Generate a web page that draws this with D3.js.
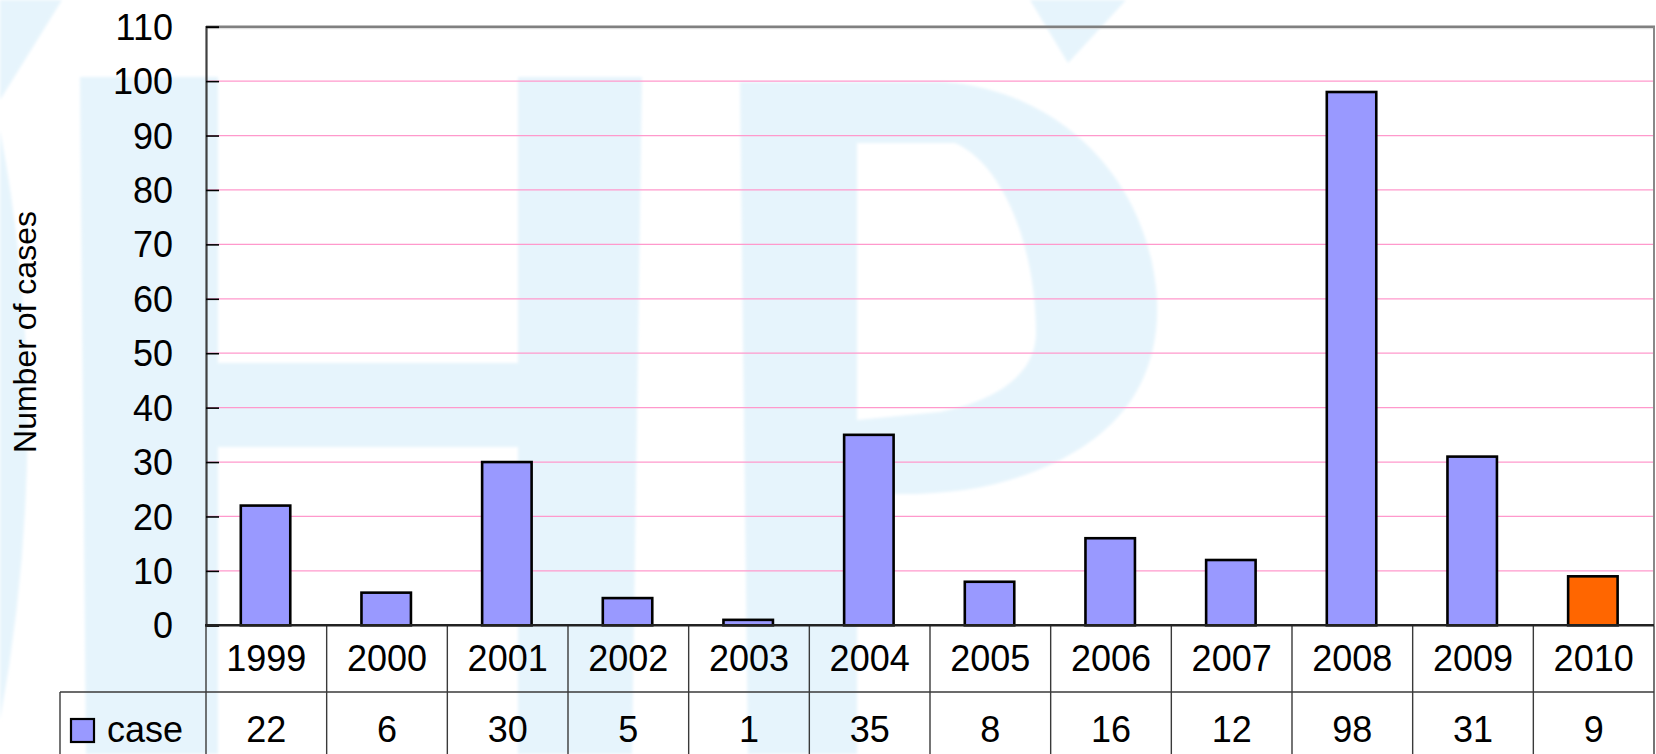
<!DOCTYPE html>
<html>
<head>
<meta charset="utf-8">
<script src="https://cdn.jsdelivr.net/npm/d3@7/dist/d3.min.js"></script>
<style>
  html, body { margin: 0; padding: 0; background: #ffffff; }
  svg { display: block; }
  text { font-family: "Liberation Sans", Arial, sans-serif; fill: #000; }
</style>
</head>
<body>
<svg id="chart" width="1656" height="754"></svg>
<script>
// Yearly case counts
const years = ["1999", "2000", "2001", "2002", "2003", "2004", "2005", "2006", "2007", "2008", "2009", "2010"];
const cases = [22, 6, 30, 5, 1, 35, 8, 16, 12, 98, 31, 9];
const yTicks = [0, 10, 20, 30, 40, 50, 60, 70, 80, 90, 100, 110];
const seriesName = "case";
const yTitle = "Number of cases";
const highlightYear = "2010";

const W = 1656, H = 754;
const plot = { left: 206, right: 1654, top: 26.7, bottom: 625.3 };
const table = { rowSplit: 692, bottom: H + 2, legendLeft: 60 };

const BAR_FILL = "#9999ff";
const HIGHLIGHT_FILL = "#ff6600";
const GRID = "#ff99cc";
const WATERMARK = "#e6f4fc";

const svg = d3.select("#chart");

// Faint logo watermark behind everything
const defs = svg.append("defs");
defs.append("filter").attr("id", "soft")
  .append("feGaussianBlur").attr("stdDeviation", 1.5);
const wm = svg.append("g").attr("filter", "url(#soft)").attr("fill", WATERMARK);
wm.append("path").attr("d", "M0,0 L62,0 L0,100 Z");
wm.append("path").attr("d", "M0,130 Q55,420 0,720 Z");
wm.append("path").attr("d",
  "M80,77 L218,77 L218,363 L518,363 L518,77 L642,77 L632,754 L518,754 L518,447 L218,447 L218,754 L86,754 Z");
wm.append("path").attr("fill-rule", "evenodd").attr("d",
  "M740,82 L943,82 C1060,90 1150,180 1157,300 C1160,380 1120,430 1060,460 C1010,485 960,494 900,494 L857,494 L857,754 L748,754 Z " +
  "M857,143 L955,143 C1005,165 1036,250 1036,333 C1036,372 1000,400 940,412 L857,420 Z");
wm.append("path").attr("d", "M1030,0 L1068,63 L1126,0 Z");

// Scales
const x = d3.scaleBand().domain(years).range([plot.left, plot.right]).padding(0);
const y = d3.scaleLinear().domain([0, 110]).range([plot.bottom, plot.top]);
const barW = x.bandwidth() * 0.41;

// Horizontal gridlines
svg.append("g").selectAll("line")
  .data(yTicks.filter(t => t > 0 && t < 110))
  .join("line")
  .attr("x1", plot.left).attr("x2", plot.right)
  .attr("y1", d => y(d)).attr("y2", d => y(d))
  .attr("stroke", GRID).attr("stroke-width", 1.2);

// Plot frame: top and right borders with a faint inner shadow line
svg.append("line").attr("x1", plot.left).attr("x2", plot.right)
  .attr("y1", plot.top + 2).attr("y2", plot.top + 2)
  .attr("stroke", "#d8d8d8").attr("stroke-width", 1);
svg.append("line").attr("x1", plot.left).attr("x2", plot.right + 1)
  .attr("y1", plot.top).attr("y2", plot.top)
  .attr("stroke", "#808080").attr("stroke-width", 2.5);
svg.append("line").attr("x1", plot.right).attr("x2", plot.right)
  .attr("y1", plot.top).attr("y2", plot.bottom)
  .attr("stroke", "#888888").attr("stroke-width", 2);

// Bars
svg.append("g").selectAll("rect")
  .data(years.map((yr, i) => ({ yr, v: cases[i] })))
  .join("rect")
  .attr("x", d => x(d.yr) + (x.bandwidth() - barW) / 2 - 0.8)
  .attr("y", d => y(d.v))
  .attr("width", barW)
  .attr("height", d => y(0) - y(d.v))
  .attr("fill", d => d.yr === highlightYear ? HIGHLIGHT_FILL : BAR_FILL)
  .attr("stroke", "#000").attr("stroke-width", 2.6);

// Y axis with inward ticks
const yAxis = d3.axisLeft(y).tickValues(yTicks).tickSize(-13).tickPadding(33);
const gy = svg.append("g").attr("transform", `translate(${plot.left},0)`).call(yAxis);
gy.select(".domain").attr("stroke", "#404040").attr("stroke-width", 2.2);
gy.selectAll(".tick line").attr("stroke", "#000").attr("stroke-width", 1.6);
gy.selectAll(".tick text")
  .attr("font-size", 36).attr("fill", "#000")
  .attr("font-family", "'Liberation Sans', Arial, sans-serif")
  .attr("dy", "0.35em");

// Y axis title
svg.append("text")
  .attr("transform", `translate(36,332) rotate(-90)`)
  .attr("text-anchor", "middle")
  .attr("font-size", 32)
  .text(yTitle);

// Data table under the axis
const tbl = svg.append("g");
const edges = years.map(yr => x(yr)).concat([plot.right]);
tbl.selectAll("line.col")
  .data(edges)
  .join("line").attr("class", "col")
  .attr("x1", d => d).attr("x2", d => d)
  .attr("y1", plot.bottom).attr("y2", table.bottom)
  .attr("stroke", "#3a3a3a").attr("stroke-width", 1.4);
tbl.append("line")
  .attr("x1", table.legendLeft).attr("x2", plot.right)
  .attr("y1", table.rowSplit).attr("y2", table.rowSplit)
  .attr("stroke", "#3a3a3a").attr("stroke-width", 1.4);
tbl.append("line")
  .attr("x1", table.legendLeft).attr("x2", table.legendLeft)
  .attr("y1", table.rowSplit).attr("y2", table.bottom)
  .attr("stroke", "#3a3a3a").attr("stroke-width", 1.4);

// X axis line (bottom of the plot)
svg.append("line")
  .attr("x1", plot.left - 1).attr("x2", plot.right)
  .attr("y1", plot.bottom).attr("y2", plot.bottom)
  .attr("stroke", "#222").attr("stroke-width", 2.4);

// Category labels
tbl.selectAll("text.cat")
  .data(years)
  .join("text").attr("class", "cat")
  .attr("x", d => x(d) + x.bandwidth() / 2)
  .attr("y", 671)
  .attr("text-anchor", "middle")
  .attr("font-size", 36)
  .text(d => d);

// Value row
tbl.selectAll("text.val")
  .data(years.map((yr, i) => ({ yr, v: cases[i] })))
  .join("text").attr("class", "val")
  .attr("x", d => x(d.yr) + x.bandwidth() / 2)
  .attr("y", 742)
  .attr("text-anchor", "middle")
  .attr("font-size", 36)
  .text(d => d.v);

// Legend key in the table's row header
tbl.append("rect")
  .attr("x", 71).attr("y", 719).attr("width", 23).attr("height", 23)
  .attr("fill", BAR_FILL).attr("stroke", "#000").attr("stroke-width", 2.2);
tbl.append("text")
  .attr("x", 107).attr("y", 742)
  .attr("font-size", 36)
  .text(seriesName);
</script>
</body>
</html>
